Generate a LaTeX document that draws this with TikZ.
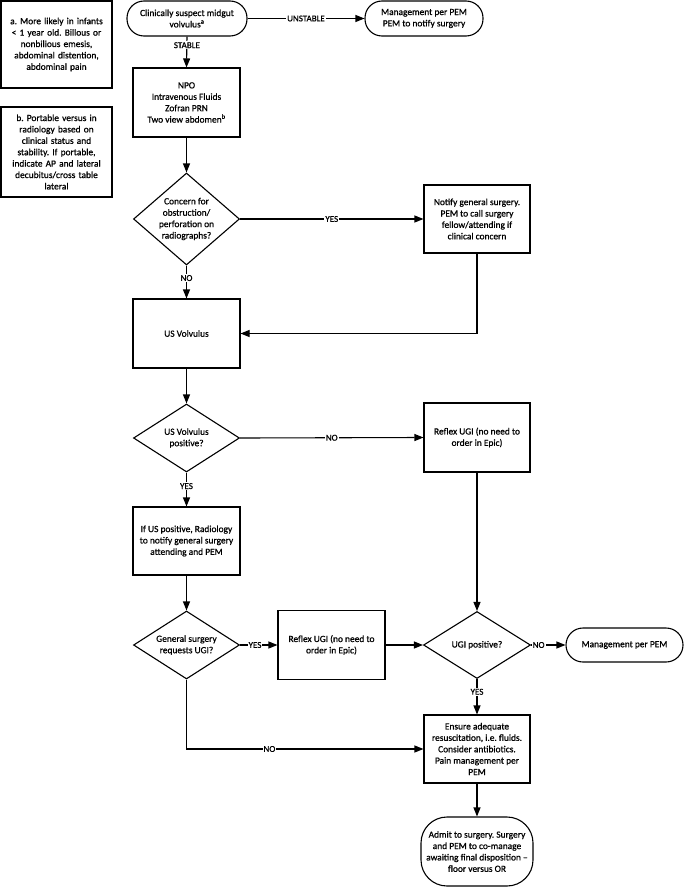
\documentclass[tikz,border=0pt]{standalone}
\usepackage{fontspec}
\setmainfont{Carlito}[FakeBold=0.8]
\frenchspacing
\usetikzlibrary{arrows.meta,shapes.geometric}
\begin{document}
\begin{tikzpicture}[x=1pt,y=-1pt,
  every node/.style={font=\fontsize{9.4}{11.4}\selectfont, align=center},
  box/.style={draw, line width=1.1pt, rectangle, inner sep=1pt},
  term/.style={draw, line width=1.1pt, rectangle, rounded corners=17pt, inner sep=1pt},
  dia/.style={draw, line width=1.1pt, diamond, inner sep=0pt},
  arr/.style={line width=1.1pt, -{Triangle[length=9pt,width=7pt]}},
  lbl/.style={fill=white, inner sep=1pt, font=\fontsize{9}{10}\selectfont}
]
\useasboundingbox (0,0) rectangle (685,888);

% notes
\node[box, minimum width=111pt, minimum height=87pt, text width=106pt] (noteA) at (56.5,44.5)
  {a. More likely in infants\\ \textless{} 1 year old. Billous or\\ nonbilious emesis,\\ abdominal distention,\\ abdominal pain};
\node[box, minimum width=111pt, minimum height=90pt, text width=106pt] (noteB) at (56.5,152)
  {b. Portable versus in\\ radiology based on\\ clinical status and\\ stability. If portable,\\ indicate AP and lateral\\ decubitus/cross table\\ lateral};

% main nodes
\node[term, minimum width=120pt, minimum height=35pt] (start) at (187,18.5)
  {Clinically suspect midgut\\ volvulus\textsuperscript{a}};
\node[term, minimum width=118pt, minimum height=35pt] (mgmt1) at (424,18.5)
  {Management per PEM\\ PEM to notify surgery};
\node[box, minimum width=107pt, minimum height=69pt] (npo) at (186.5,102.5)
  {NPO\\ Intravenous Fluids\\ Zofran PRN\\ Two view abdomen\textsuperscript{b}};
\node[dia, minimum width=106pt, minimum height=92pt,
  label={center:Concern for\\ obstruction/\\ perforation on\\ radiographs?}] (d1) at (186.5,219) {};
\node[box, minimum width=106pt, minimum height=68pt] (notify) at (477,219)
  {Notify general surgery.\\ PEM to call surgery\\ fellow/attending if\\ clinical concern};
\node[box, minimum width=107pt, minimum height=69pt] (us) at (186.5,333.5) {US Volvulus};
\node[dia, minimum width=106pt, minimum height=68pt,
  label={center:US Volvulus\\ positive?}] (d2) at (186.5,438) {};
\node[box, minimum width=106pt, minimum height=69pt] (reflex1) at (477,437.5)
  {Reflex UGI (no need to\\ order in Epic)};
\node[box, minimum width=107pt, minimum height=68pt] (rad) at (186.5,541)
  {If US positive, Radiology\\ to notify general surgery\\ attending and PEM};
\node[dia, minimum width=106pt, minimum height=68pt,
  label={center:General surgery\\ requests UGI?}] (d3) at (186.5,645) {};
\node[box, minimum width=107pt, minimum height=69pt] (reflex2) at (331.5,645)
  {Reflex UGI (no need to\\ order in Epic)};
\node[dia, minimum width=107pt, minimum height=67pt,
  label={center:UGI positive?}] (d4) at (477,645) {};
\node[term, minimum width=117pt, minimum height=34pt] (mgmt2) at (624.5,645)
  {Management per PEM};
\node[box, minimum width=106pt, minimum height=68pt] (ensure) at (477,749)
  {Ensure adequate\\ resuscitation, i.e. fluids.\\ Consider antibiotics.\\ Pain management per\\ PEM};
\node[term, rounded corners=26pt, minimum width=112pt, minimum height=69pt] (admit) at (477,851.5)
  {Admit to surgery. Surgery\\ and PEM to co-manage\\ awaiting final disposition \textendash\\ floor versus OR};

% connectors
\draw[arr] (start.east) -- node[lbl, pos=0.5] {UNSTABLE} (mgmt1.west);
\draw[arr] (start.south) -- node[lbl, pos=0.28] {STABLE} (npo.north);
\draw[arr] (npo.south) -- (d1.north);
\draw[arr] (d1.east) -- node[lbl, pos=0.5] {YES} (notify.west);
\draw[arr] (d1.south) -- node[lbl, pos=0.38] {NO} (us.north);
\draw[arr] (notify.south) |- (us.east);
\draw[arr] (us.south) -- (d2.north);
\draw[arr] (d2.east) -- node[lbl, pos=0.5] {NO} (reflex1.west);
\draw[arr] (d2.south) -- node[lbl, pos=0.4] {YES} (rad.north);
\draw[arr] (rad.south) -- (d3.north);
\draw[arr] (d3.east) -- node[lbl, pos=0.4] {YES} (reflex2.west);
\draw[arr] (reflex2.east) -- (d4.west);
\draw[arr] (reflex1.south) -- (d4.north);
\draw[arr] (d4.east) -- node[lbl, pos=0.22] {NO} (mgmt2.west);
\draw[arr] (d4.south) -- node[lbl, pos=0.36] {YES} (ensure.north);
\draw[arr] (d3.south) |- node[lbl, pos=0.675] {NO} (ensure.west);
\draw[arr] (ensure.south) -- (admit.north);
\end{tikzpicture}
\end{document}
